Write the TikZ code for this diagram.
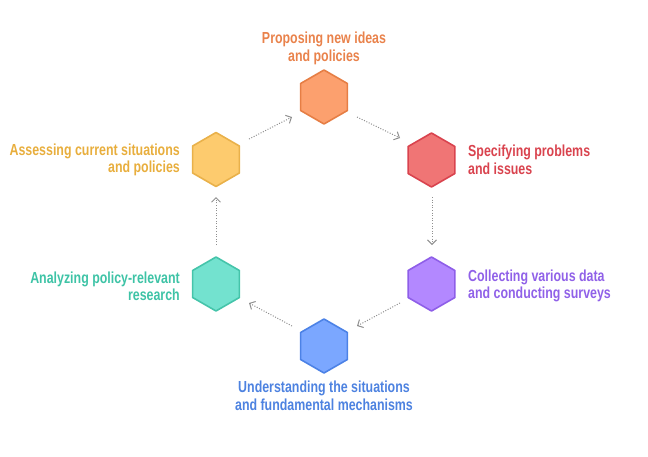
\documentclass[tikz,border=0pt]{standalone}
\usepackage{fontspec}
\setmainfont{Liberation Sans}[FakeStretch=0.775]
\usetikzlibrary{arrows.meta,shapes.geometric}
\definecolor{orF}{HTML}{FCA06E}\definecolor{orD}{HTML}{E67E45}\definecolor{orT}{HTML}{E9824B}
\definecolor{reF}{HTML}{F07575}\definecolor{reD}{HTML}{D9434E}\definecolor{reT}{HTML}{D9434E}
\definecolor{yeF}{HTML}{FDCB6E}\definecolor{yeD}{HTML}{E9B14A}\definecolor{yeT}{HTML}{E8AE3D}
\definecolor{puF}{HTML}{B388FF}\definecolor{puD}{HTML}{8E5EE8}\definecolor{puT}{HTML}{9061E8}
\definecolor{blF}{HTML}{7BA7FF}\definecolor{blD}{HTML}{4C82E6}\definecolor{blT}{HTML}{4D82E0}
\definecolor{teF}{HTML}{73E2CF}\definecolor{teD}{HTML}{45C4AA}\definecolor{teT}{HTML}{3EC3A6}
\definecolor{arr}{HTML}{8F8F8F}
\tikzset{
  hexa/.style={regular polygon, regular polygon sides=6, shape border rotate=90, minimum size=54pt, inner sep=0pt, line width=1.6pt, line join=round},
  lbl/.style={font=\bfseries\fontsize{16}{17.5}\selectfont, inner sep=0pt, align=#1},
  flow/.style={draw=arr, line width=1pt, dash pattern=on 1pt off 1.6pt, -{Straight Barb[length=4.5pt,width=9pt,line width=1pt]}}
}
\begin{document}
\begin{tikzpicture}[x=1pt,y=-1pt]
\useasboundingbox (0,0) rectangle (648,456);
\node[hexa, fill=orF, draw=orD] (h1) at (324,97) {};
\node[hexa, fill=reF, draw=reD] (h2) at (431.5,160) {};
\node[hexa, fill=puF, draw=puD] (h3) at (431.5,284) {};
\node[hexa, fill=blF, draw=blD] (h4) at (324,346) {};
\node[hexa, fill=teF, draw=teD] (h5) at (216,284) {};
\node[hexa, fill=yeF, draw=yeD] (h6) at (216,159.5) {};
\node[lbl=center, text=orT] (t1) at (324,48.5) {Proposing new ideas\\and policies};
\node[lbl=left, text=reT, anchor=west] (t2) at (468,160) {Specifying problems\\and issues};
\node[lbl=left, text=puT, anchor=west] (t3) at (468,286) {Collecting various data\\and conducting surveys};
\node[lbl=center, text=blT] (t4) at (324,396) {Understanding the situations\\and fundamental mechanisms};
\node[lbl=right, text=teT, anchor=east] (t5) at (180,286.5) {Analyzing policy-relevant\\research};
\node[lbl=right, text=yeT, anchor=east] (t6) at (180,160) {Assessing current situations\\and policies};
\coordinate (a1s) at (357,117); \coordinate (a1e) at (400,138);
\coordinate (a2s) at (432,197); \coordinate (a2e) at (432,245);
\coordinate (a3s) at (400,303); \coordinate (a3e) at (357,326);
\coordinate (a4s) at (292,326); \coordinate (a4e) at (249,303);
\coordinate (a5s) at (216,245); \coordinate (a5e) at (216,197);
\coordinate (a6s) at (249,139); \coordinate (a6e) at (292,117);
\draw[flow] (a1s) -- (a1e);
\draw[flow] (a2s) -- (a2e);
\draw[flow] (a3s) -- (a3e);
\draw[flow] (a4s) -- (a4e);
\draw[flow] (a5s) -- (a5e);
\draw[flow] (a6s) -- (a6e);
\end{tikzpicture}
\end{document}
